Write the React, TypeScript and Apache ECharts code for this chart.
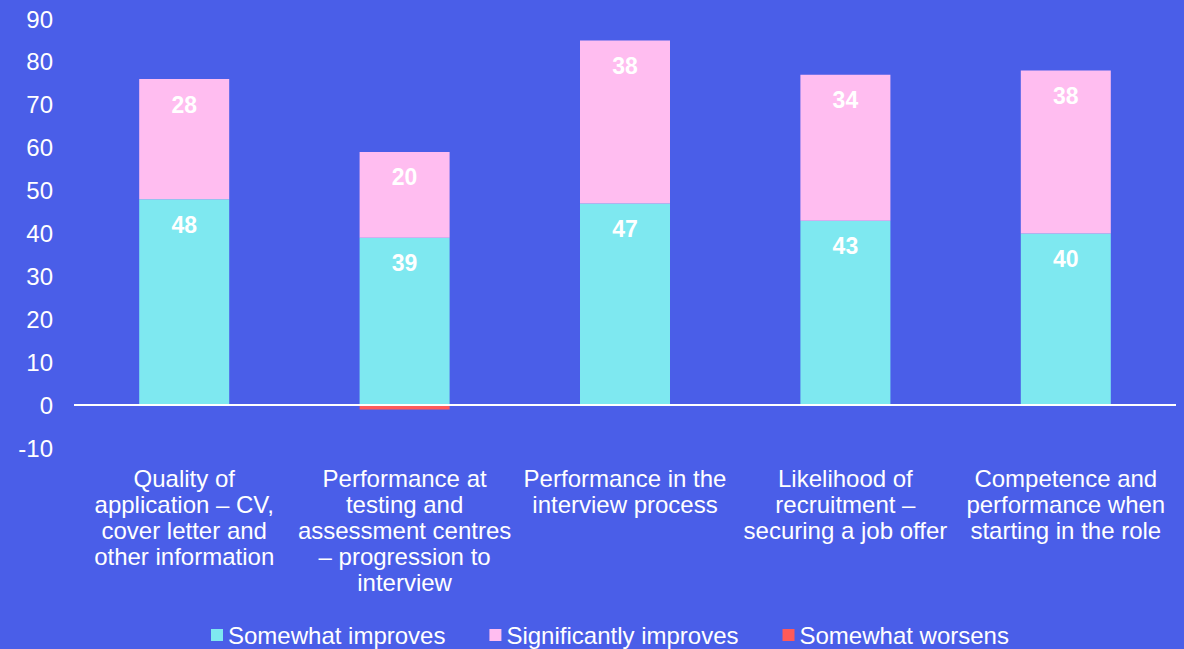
import React, { useEffect, useRef } from "react";
import * as echarts from "echarts";

const categories = [
  "Quality of\napplication – CV,\ncover letter and\nother information",
  "Performance at\ntesting and\nassessment centres\n– progression to\ninterview",
  "Performance in the\ninterview process",
  "Likelihood of\nrecruitment –\nsecuring a job offer",
  "Competence and\nperformance when\nstarting in the role",
];
const somewhatImproves = [48, 39, 47, 43, 40];
const significantlyImproves = [28, 20, 38, 34, 38];
const somewhatWorsens = [null, -1, null, null, null];
const yMin = -10;
const yMax = 90;
const yInterval = 10;

const BG = "#4a5ee8";
const FONT = "'Liberation Sans', Arial, sans-serif";

export default function App() {
  const ref = useRef<HTMLDivElement>(null);
  useEffect(() => {
    const chart = echarts.init(ref.current!, null, { renderer: "svg" });
    const label = {
      show: true,
      position: "insideTop",
      distance: 14,
      color: "#ffffff",
      fontWeight: "bold",
      fontSize: 23,
      fontFamily: FONT,
    };
    chart.setOption({
      animation: false,
      backgroundColor: BG,
      textStyle: { fontFamily: FONT },
      grid: { left: 74, right: 8, top: 19, bottom: 201, containLabel: false },
      legend: {
        top: 623,
        left: 211,
        padding: 0,
        itemWidth: 12,
        itemHeight: 12,
        itemGap: 44,
        icon: "rect",
        textStyle: { color: "#ffffff", fontSize: 24, lineHeight: 24, fontFamily: FONT },
        data: ["Somewhat improves", "Significantly improves", "Somewhat worsens"],
      },
      xAxis: {
        type: "category",
        data: categories,
        axisLine: { show: false, onZero: false },
        axisTick: { show: false },
        axisLabel: {
          color: "#ffffff",
          fontSize: 24,
          lineHeight: 26,
          margin: 17,
          interval: 0,
          fontFamily: FONT,
        },
      },
      yAxis: {
        type: "value",
        min: yMin,
        max: yMax,
        interval: yInterval,
        splitLine: { show: false },
        axisLine: { show: false },
        axisTick: { show: false },
        axisLabel: { color: "#ffffff", fontSize: 24, margin: 21, fontFamily: FONT },
      },
      series: [
        {
          name: "Somewhat improves",
          type: "bar",
          stack: "total",
          barWidth: 90,
          data: somewhatImproves,
          itemStyle: { color: "#7ee8f0" },
          label,
          markLine: {
            silent: true,
            symbol: "none",
            label: { show: false },
            lineStyle: { color: "#ffffff", width: 2, type: "solid" },
            data: [{ yAxis: 0 }],
            z: 10,
          },
        },
        {
          name: "Significantly improves",
          type: "bar",
          stack: "total",
          barWidth: 90,
          data: significantlyImproves,
          itemStyle: { color: "#ffbdf0" },
          label,
        },
        {
          name: "Somewhat worsens",
          type: "bar",
          stack: "total",
          barWidth: 90,
          data: somewhatWorsens,
          itemStyle: { color: "#ff5a5a" },
          label: { show: false },
        },
      ],
    });
    return () => chart.dispose();
  }, []);
  return <div ref={ref} style={{ width: 1184, height: 649, position: "fixed", left: 0, top: 0 }} />;
}
